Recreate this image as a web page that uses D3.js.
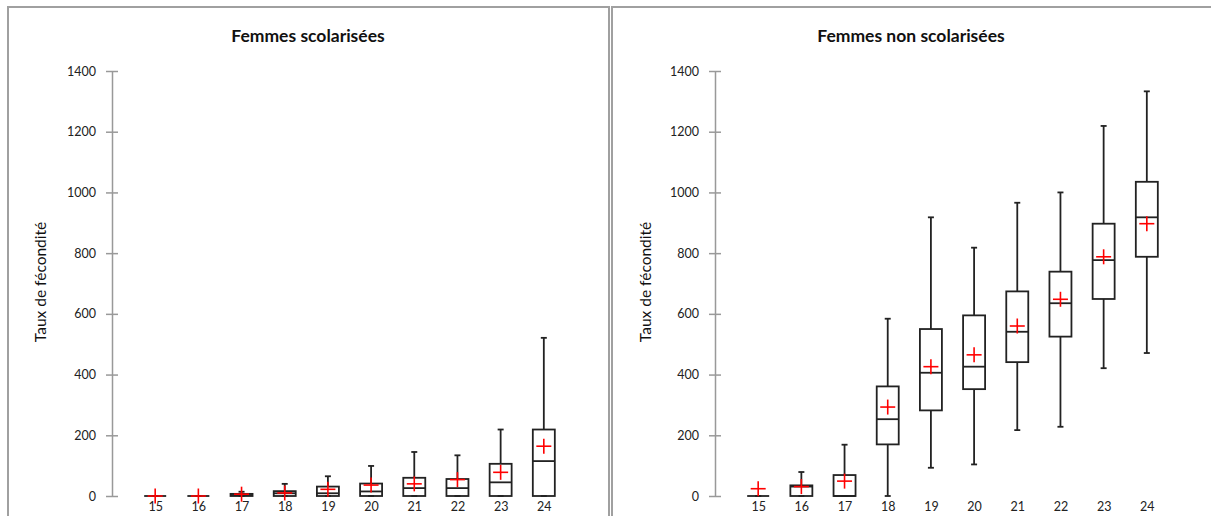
<!DOCTYPE html>
<html>
<head>
<meta charset="utf-8">
<script src="https://cdn.jsdelivr.net/npm/d3@7"></script>
<style>
  html, body { margin: 0; padding: 0; background: #fff; }
  svg { display: block; }
</style>
</head>
<body>
<svg id="chart" width="1211" height="516"></svg>
<script>
// ---- Data ----
const ages = ["15","16","17","18","19","20","21","22","23","24"];
const yTicks = [0, 200, 400, 600, 800, 1000, 1200, 1400];
const titles = ["Femmes scolarisées", "Femmes non scolarisées"];
const yLabel = "Taux de fécondité";

// Femmes scolarisées
const scolMin    = [0, 0, 0, 0, 0, 0, 0, 0, 0, 0];
const scolQ1     = [0, 0, 0, 0, 0, 0, 0, 0, 0, 0];
const scolMedian = [0, 0, 3, 9, 9, 15, 26, 26, 45, 115];
const scolQ3     = [0, 0, 7, 16, 31, 41, 60, 56, 106, 219];
const scolMax    = [0, 0, 14, 40, 65, 99, 145, 134, 219, 521];
const scolMean   = [0, 0, 6, 10, 22, 36, 40, 54, 78, 164];

// Femmes non scolarisées
const nonMin    = [0, 0, 0, 0, 93, 104, 217, 228, 421, 471];
const nonQ1     = [0, 0, 0, 170, 282, 352, 441, 525, 649, 788];
const nonMedian = [0, 31, 0, 253, 406, 426, 541, 635, 777, 918];
const nonQ3     = [0, 35, 69, 361, 550, 595, 674, 739, 897, 1035];
const nonMax    = [0, 79, 169, 584, 918, 818, 966, 1000, 1219, 1333];
const nonMean   = [24, 31, 49, 293, 426, 465, 560, 648, 788, 897];

function build(min, q1, med, q3, max, mean) {
  return ages.map((a, i) => ({age: a, min: min[i], q1: q1[i], med: med[i], q3: q3[i], max: max[i], mean: mean[i]}));
}
const panels = [
  build(scolMin, scolQ1, scolMedian, scolQ3, scolMax, scolMean),
  build(nonMin, nonQ1, nonMedian, nonQ3, nonMax, nonMean)
];

// ---- Drawing ----
const svg = d3.select("#chart");
const font = "Lato, 'Open Sans', sans-serif";

// frames
svg.append("rect").attr("x", 8).attr("y", 7).attr("width", 601).attr("height", 530)
  .attr("fill", "none").attr("stroke", "#a0a0a0").attr("stroke-width", 2);
svg.append("rect").attr("x", 612).attr("y", 7).attr("width", 620).attr("height", 530)
  .attr("fill", "none").attr("stroke", "#a0a0a0").attr("stroke-width", 2);

const y = d3.scaleLinear().domain([0, 1400]).range([496, 71]);
const boxW = 22, capW = 6, crossS = 7.5;

panels.forEach((data, p) => {
  const ox = p * 603;
  const g = svg.append("g").attr("transform", `translate(${ox},0)`);
  const x = d3.scalePoint().domain(ages).range([112, 587]).padding(1);

  // title
  g.append("text").attr("x", 308).attr("y", 35).attr("text-anchor", "middle")
    .attr("dominant-baseline", "central")
    .attr("font-family", font).attr("font-weight", "bold").attr("font-size", 17.5)
    .attr("fill", "#111").text(titles[p]);

  // y label
  g.append("text").attr("transform", `translate(${40 + p * 2},282) rotate(-90)`)
    .attr("text-anchor", "middle").attr("dominant-baseline", "central")
    .attr("font-family", font).attr("font-size", 15.5).attr("fill", "#111").text(yLabel);

  // y axis
  const ya = g.append("g").attr("transform", "translate(112,0)")
    .call(d3.axisLeft(y).tickValues(yTicks).tickFormat(d3.format("d"))
      .tickSizeOuter(0).tickSizeInner(6).tickPadding(10));
  ya.select(".domain").attr("stroke", "#999").attr("stroke-width", 1.5);
  ya.selectAll(".tick line").attr("x1", 6).attr("stroke", "#999").attr("stroke-width", 1.5);
  ya.selectAll(".tick text").attr("font-family", font).attr("font-size", 12.5).attr("fill", "#222");

  // x labels
  const xa = g.append("g").attr("transform", "translate(0,496)")
    .call(d3.axisBottom(x).tickSize(0).tickPadding(6));
  xa.select(".domain").remove();
  xa.selectAll(".tick text").attr("font-family", font).attr("font-size", 12.5).attr("fill", "#222");

  const b = g.selectAll("g.box").data(data).join("g").attr("class", "box")
    .attr("transform", d => `translate(${x(d.age)},0)`);
  const st = "#222", sw = 1.8;
  // whiskers
  b.append("line").attr("x1", 0).attr("x2", 0).attr("y1", d => y(d.q3)).attr("y2", d => y(d.max))
    .attr("stroke", st).attr("stroke-width", sw);
  b.append("line").attr("x1", 0).attr("x2", 0).attr("y1", d => y(d.q1)).attr("y2", d => y(d.min))
    .attr("stroke", st).attr("stroke-width", sw);
  b.append("line").attr("x1", -capW / 2).attr("x2", capW / 2).attr("y1", d => y(d.max)).attr("y2", d => y(d.max))
    .attr("stroke", st).attr("stroke-width", sw);
  b.append("line").attr("x1", -capW / 2).attr("x2", capW / 2).attr("y1", d => y(d.min)).attr("y2", d => y(d.min))
    .attr("stroke", st).attr("stroke-width", sw);
  // box
  b.append("rect").attr("x", -boxW / 2).attr("width", boxW)
    .attr("y", d => y(d.q3)).attr("height", d => y(d.q1) - y(d.q3))
    .attr("fill", "none").attr("stroke", st).attr("stroke-width", sw);
  // median
  b.append("line").attr("x1", -boxW / 2).attr("x2", boxW / 2).attr("y1", d => y(d.med)).attr("y2", d => y(d.med))
    .attr("stroke", st).attr("stroke-width", sw);
  // mean cross
  b.append("line").attr("x1", -crossS).attr("x2", crossS).attr("y1", d => y(d.mean)).attr("y2", d => y(d.mean))
    .attr("stroke", "#ff0000").attr("stroke-width", 1.6);
  b.append("line").attr("x1", 0).attr("x2", 0).attr("y1", d => y(d.mean) - crossS).attr("y2", d => y(d.mean) + crossS)
    .attr("stroke", "#ff0000").attr("stroke-width", 1.6);
});
</script>
</body>
</html>
